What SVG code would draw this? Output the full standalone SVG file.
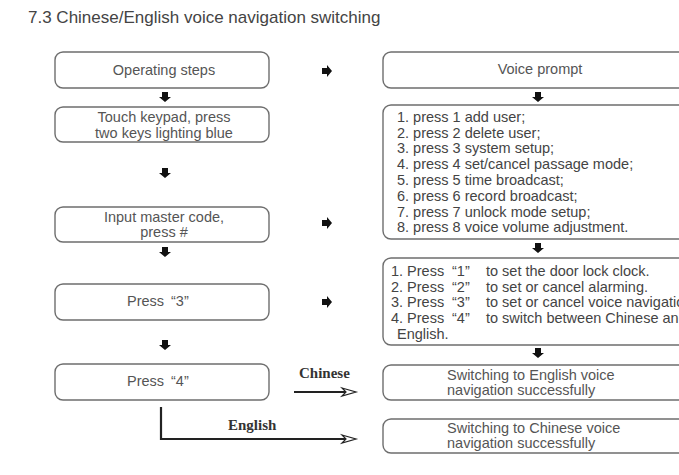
<svg xmlns="http://www.w3.org/2000/svg" width="679" height="475" viewBox="0 0 679 475">
<defs>
<style>
.box{fill:#fff;stroke:#6e6e6e;stroke-width:1.4}
.t{font-family:"Liberation Sans",Arial,sans-serif;font-size:14.5px;fill:#555}
.l{fill:#444}
.c{text-anchor:middle}
.lbl{font-family:"Liberation Serif","Times New Roman",serif;font-size:15px;font-weight:bold;fill:#333}
.con{fill:none;stroke:#222;stroke-width:2.2}
.head{fill:#fff;stroke:#222;stroke-width:1.2;stroke-linejoin:miter}
</style>
<path id="dn" d="M-3,-5 H3 V0 H6 L0,5 L-6,0 H-3 Z" fill="#111"/>
<path id="rt" d="M-5,-3 V3 H0 V6 L5,0 L0,-6 V-3 Z" fill="#111"/>
</defs>
<rect width="679" height="475" fill="#fff"/>
<text x="28" y="23" font-family="Liberation Sans,Arial,sans-serif" font-size="17" fill="#444">7.3 Chinese/English voice navigation switching</text>

<g id="n-operating">
<rect class="box" x="55" y="52" width="214" height="36" rx="8"/>
<text class="t c" x="164" y="75">Operating steps</text>
</g>
<g id="n-touch">
<rect class="box" x="55" y="107" width="214" height="35" rx="8"/>
<text class="t c" x="164" y="122">Touch keypad, press</text>
<text class="t c" x="164" y="138">two keys lighting blue</text>
</g>
<g id="n-input">
<rect class="box" x="55" y="207" width="214" height="35" rx="8"/>
<text class="t c" x="164" y="222">Input master code,</text>
<text class="t c" x="164" y="237">press #</text>
</g>
<g id="n-press3">
<rect class="box" x="55" y="284" width="214" height="36" rx="8"/>
<text class="t" y="306"><tspan x="127">Press</tspan><tspan x="171">“3”</tspan></text>
</g>
<g id="n-press4">
<rect class="box" x="55" y="364" width="214" height="36" rx="8"/>
<text class="t" y="386"><tspan x="127">Press</tspan><tspan x="171">“4”</tspan></text>
</g>

<g id="n-voice">
<rect class="box" x="383" y="52" width="320" height="36" rx="8"/>
<text class="t c" x="540" y="74">Voice prompt</text>
</g>
<g id="n-menu">
<rect class="box" x="383" y="105" width="320" height="134" rx="8"/>
<text class="t l" x="397" y="122">1. press 1 add user;</text>
<text class="t l" x="397" y="138">2. press 2 delete user;</text>
<text class="t l" x="397" y="153">3. press 3 system setup;</text>
<text class="t l" x="397" y="169">4. press 4 set/cancel passage mode;</text>
<text class="t l" x="397" y="185">5. press 5 time broadcast;</text>
<text class="t l" x="397" y="201">6. press 6 record broadcast;</text>
<text class="t l" x="397" y="217">7. press 7 unlock mode setup;</text>
<text class="t l" x="397" y="232">8. press 8 voice volume adjustment.</text>
</g>
<g id="n-setup">
<rect class="box" x="383" y="258" width="320" height="87" rx="8"/>
<text class="t l" y="276"><tspan x="391">1. Press</tspan><tspan x="452">“1”</tspan><tspan x="486">to set the door lock clock.</tspan></text>
<text class="t l" y="292"><tspan x="391">2. Press</tspan><tspan x="452">“2”</tspan><tspan x="486">to set or cancel alarming.</tspan></text>
<text class="t l" y="307"><tspan x="391">3. Press</tspan><tspan x="452">“3”</tspan><tspan x="486">to set or cancel voice navigation.</tspan></text>
<text class="t l" y="323"><tspan x="391">4. Press</tspan><tspan x="452">“4”</tspan><tspan x="486">to switch between Chinese and</tspan></text>
<text class="t l" x="397" y="339">English.</text>
</g>
<g id="n-english">
<rect class="box" x="383" y="365" width="320" height="35" rx="8"/>
<text class="t" x="447" y="380">Switching to English voice</text>
<text class="t" x="447" y="395">navigation successfully</text>
</g>
<g id="n-chinese">
<rect class="box" x="383" y="419" width="320" height="34" rx="8"/>
<text class="t" x="447" y="433">Switching to Chinese voice</text>
<text class="t" x="447" y="448">navigation successfully</text>
</g>

<g id="connectors">
<use href="#dn" x="165" y="97"/>
<use href="#dn" x="165" y="173"/>
<use href="#dn" x="165" y="252"/>
<use href="#dn" x="165" y="345"/>
<use href="#dn" x="538" y="97"/>
<use href="#dn" x="538" y="248"/>
<use href="#dn" x="538" y="353"/>
<use href="#rt" x="327" y="71"/>
<use href="#rt" x="327" y="223"/>
<use href="#rt" x="327" y="302"/>
<path class="con" d="M294,392 H350"/>
<path class="head" d="M342,388 L356,392 L342,396 L346,392 Z"/>
<path class="con" d="M161,407 V439 H350"/>
<path class="head" d="M342,435 L356,439 L342,443 L346,439 Z"/>
<text class="lbl" x="299" y="378">Chinese</text>
<text class="lbl" x="228" y="430">English</text>
</g>
</svg>
